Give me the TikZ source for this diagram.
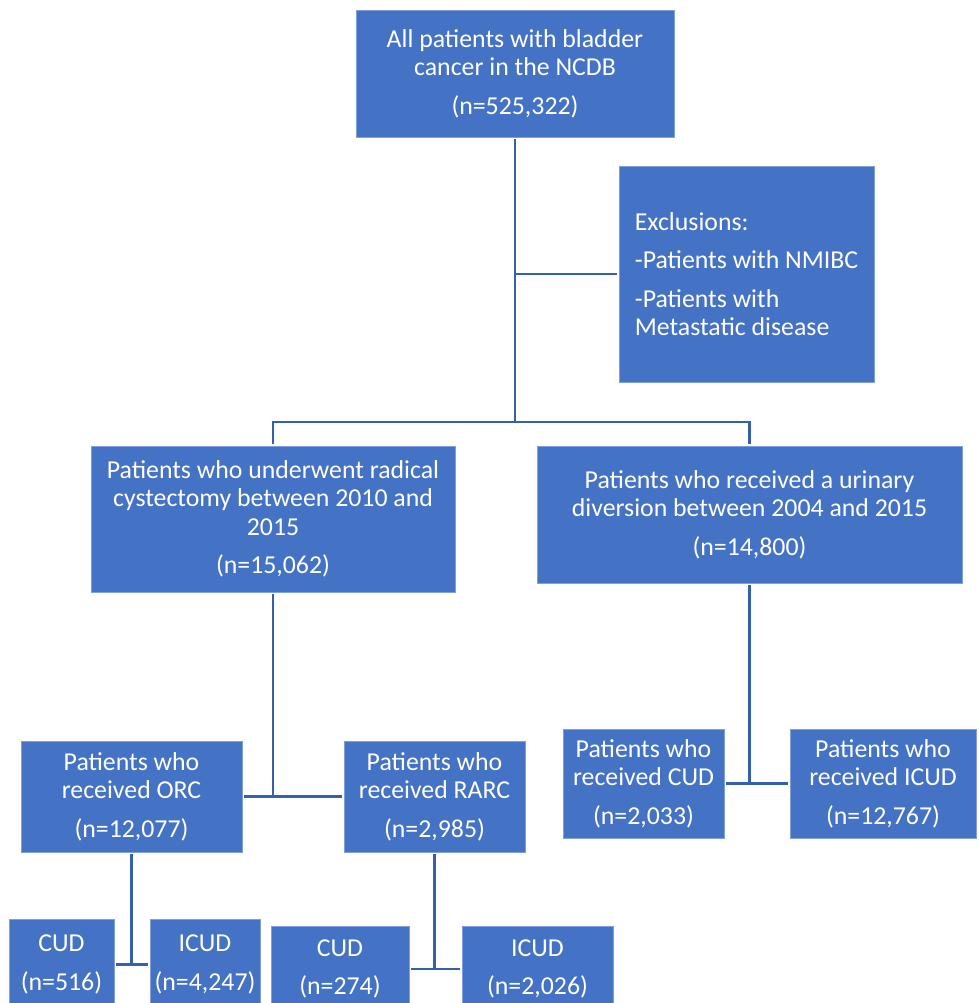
\documentclass[tikz,border=0pt]{standalone}
\usepackage{fontspec}
\setmainfont{Carlito}
\usetikzlibrary{calc}
\definecolor{boxblue}{HTML}{4472C4}
\definecolor{boxedge}{HTML}{7FA0D8}
\definecolor{linkblue}{HTML}{3560B0}
\tikzset{
  flowbox/.style={fill=boxblue, draw=boxedge, line width=0.8pt, text=white, align=center,
    inner sep=0pt, outer sep=2pt, font=\fontsize{25.8}{28.5}\selectfont},
  link/.style={draw=linkblue, line width=2.4pt},
}

\begin{document}
\begin{tikzpicture}[x=1pt,y=-1pt]
  \clip (0,0) rectangle (978,1003);
  \fill[white] (0,0) rectangle (978,1003);
  % top and exclusions
  \node[flowbox, minimum width=318, minimum height=127] (all) at (515,73.5)
    {All patients with bladder\\cancer in the NCDB\\[10pt](n=525,322)};
  \node[flowbox, align=left, minimum width=255, minimum height=216] (excl) at (746.5,274)
    {Exclusions:\\[10pt]-Patients with NMIBC\\[10pt]-Patients with\\Metastatic disease};
  % second level
  \node[flowbox, minimum width=364, minimum height=146] (cyst) at (273,519)
    {Patients who underwent radical\\cystectomy between 2010 and\\2015\\[10pt](n=15,062)};
  \node[flowbox, minimum width=425, minimum height=137] (div) at (749.5,514.5)
    {Patients who received a urinary\\diversion between 2004 and 2015\\[10pt](n=14,800)};
  % third level
  \node[flowbox, minimum width=221, minimum height=111] (orc) at (131.5,796.5)
    {Patients who\\received ORC\\[10pt](n=12,077)};
  \node[flowbox, minimum width=181, minimum height=111] (rarc) at (434.5,796.5)
    {Patients who\\received RARC\\[10pt](n=2,985)};
  \node[flowbox, minimum width=161, minimum height=109] (cud) at (643.5,783.5)
    {Patients who\\received CUD\\[10pt](n=2,033)};
  \node[flowbox, minimum width=186, minimum height=109] (icud) at (883,783.5)
    {Patients who\\received ICUD\\[10pt](n=12,767)};
  % bottom level
  \node[flowbox, minimum width=105, minimum height=91] (orccud) at (61.5,964.5) {CUD\\[10pt](n=516)};
  \node[flowbox, minimum width=110, minimum height=91] (orcicud) at (205,964.5) {ICUD\\[10pt](n=4,247)};
  \node[flowbox, minimum width=138, minimum height=86] (rarccud) at (340,969) {CUD\\[10pt](n=274)};
  \node[flowbox, minimum width=151, minimum height=86] (rarcicud) at (537.5,969) {ICUD\\[10pt](n=2,026)};

  \coordinate (split) at (515,422);
  \draw[link] (all.south) -- (split);
  \draw[link] (excl.west) -- (excl.west -| all.south);
  \draw[link] (cyst.north) |- (split) -| (div.north);
  \draw[link] (cyst.south) -- (cyst.south |- orc.east);
  \draw[link] (orc.east) -- (rarc.west);
  \draw[link] (div.south) -- (div.south |- cud.east);
  \draw[link] (cud.east) -- (icud.west);
  \draw[link] (orc.south) -- (orc.south |- orccud.east);
  \draw[link] (orccud.east) -- (orcicud.west);
  \draw[link] (rarc.south) -- (rarc.south |- rarccud.east);
  \draw[link] (rarccud.east) -- (rarcicud.west);
\end{tikzpicture}
\end{document}
